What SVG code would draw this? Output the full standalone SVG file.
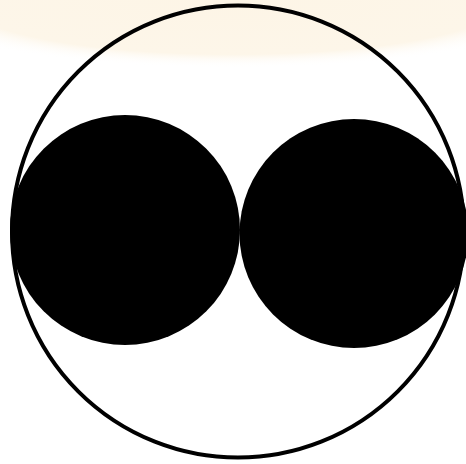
<svg xmlns="http://www.w3.org/2000/svg" width="466" height="464" viewBox="0 0 466 464">
  <defs>
    <radialGradient id="tint" cx="0.5" cy="0.5" r="0.5">
      <stop offset="0" stop-color="#fdf5e6"/>
      <stop offset="0.8" stop-color="#fdf6e9"/>
      <stop offset="1" stop-color="#ffffff" stop-opacity="0"/>
    </radialGradient>
  </defs>
  <style>
    .ball { fill: #000000; }
    .outer { fill: none; stroke: #000000; stroke-width: 4; }
  </style>
  <rect width="466" height="464" fill="#ffffff"/>
  <ellipse cx="233" cy="0" rx="340" ry="68" fill="url(#tint)"/>
  <g id="outer-circle">
    <circle class="outer" cx="238" cy="231.5" r="226"/>
  </g>
  <g id="left-ball">
    <circle class="ball" cx="125" cy="230" r="115"/>
  </g>
  <g id="right-ball">
    <circle class="ball" cx="354" cy="233.5" r="114.5"/>
  </g>
</svg>
